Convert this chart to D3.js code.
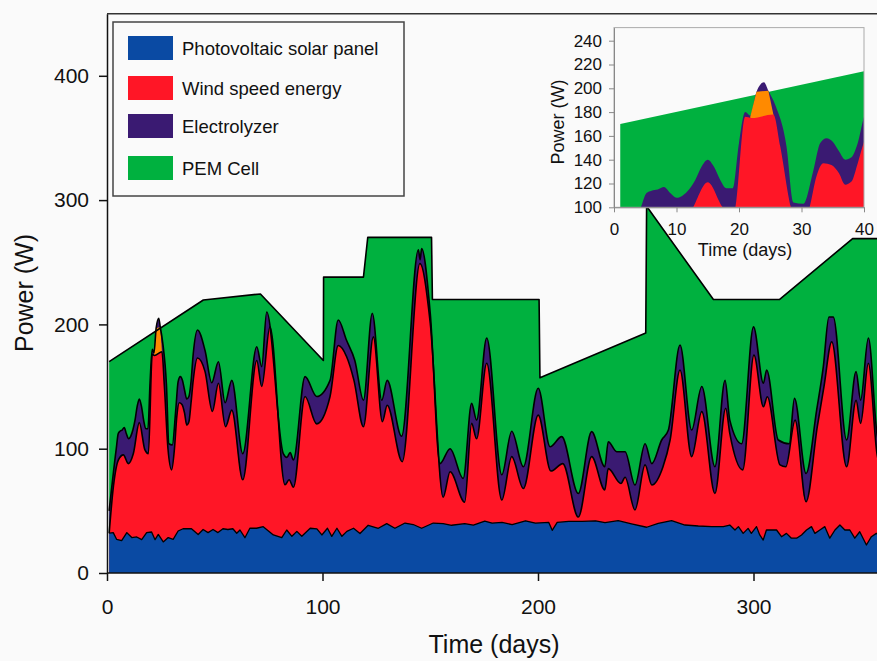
<!DOCTYPE html>
<html>
<head>
<meta charset="utf-8">
<script src="https://cdn.jsdelivr.net/npm/d3@7"></script>
<style>
    body { margin: 0; background: #fafafa; }
    svg { display: block; font-family: Arial, "Liberation Sans", sans-serif; }
</style>
</head>
<body>
<svg id="chart" width="877" height="661"></svg>
<script>
// series names, in legend order
var seriesNames = ['Photovoltaic solar panel', 'Wind speed energy', 'Electrolyzer', 'PEM Cell'];
var seriesColors = ['#0a4aa3', '#ff1626', '#3a1a72', '#00b13f'];
var excessColor = '#ff8a00';

// tick values
var mainXTicks = [0, 100, 200, 300];
var mainYTicks = [0, 100, 200, 300, 400];
var insetXTicks = [0, 10, 20, 30, 40];
var insetYTicks = [100, 120, 140, 160, 180, 200, 220, 240];

// cumulative top of each layer, [day, power W]
var solarTop = [
    [1, 32], [2.9, 32.5], [4.5, 27], [6.8, 26], [9.2, 32.5], [11.5, 28.5], [13.8, 29], [16.1, 26.8],
    [18.4, 32.5], [20.7, 33], [22.3, 26.8], [23.8, 31], [26.1, 25], [28.4, 28.5], [30.7, 27], [33, 33.8],
    [35.3, 35.6], [39.2, 35.6], [42.3, 31], [44.6, 35], [46.9, 32.5], [49.2, 35], [51.5, 32.5], [53.8, 35.6],
    [56.1, 35], [58.4, 35.6], [60.2, 32], [61.7, 34.6], [64, 28.4], [66.3, 36], [69.4, 36], [72.5, 37.3],
    [77.2, 30.6], [81.1, 28.4], [83.4, 34.6], [85.8, 29.5], [88.1, 33.5], [90.4, 29.5], [94.3, 36], [97.4, 35.5],
    [99.7, 30.6], [102.3, 36], [104.3, 29.5], [106.7, 36], [109, 29.5], [111.3, 33.5], [114.4, 36], [117.4, 31.8],
    [121.2, 38.4], [125.9, 36], [129.8, 39.7], [133.6, 36], [138.3, 40.2], [142.1, 39], [146, 36], [151.4, 40.2],
    [156, 39.7], [159.9, 38.4], [166, 39.7], [170, 38.5], [175.3, 41.8], [178.7, 40.2], [183.3, 40.7], [188, 38.9],
    [194.2, 42], [198.8, 40.2], [205, 40.7], [206.6, 34.3], [208.9, 40.7], [214.3, 41.5], [220.5, 41.5], [226.7, 42],
    [231.1, 40.5], [237.2, 42.1], [243.4, 39.5], [250.4, 36.8], [255.8, 40], [262, 42.1], [268.2, 38.6], [274.4, 37.8],
    [280.6, 37.3], [286, 37.3], [289, 38.6], [291.4, 34.6], [293, 37.3], [295.2, 31.9], [297.5, 35.9], [299, 31.9],
    [301.4, 37.3], [302.9, 30.6], [304.5, 26.5], [306, 34.6], [308.4, 34.6], [310.7, 34.6], [313, 29.2], [315.3, 31.9],
    [317.6, 28], [320, 28], [322.3, 30.6], [324.6, 34.6], [326.9, 37.3], [328.5, 31.9], [330.8, 34.6], [333.1, 37.3],
    [335.4, 28], [337.8, 34.6], [340.1, 38.6], [342.4, 34.6], [344.7, 34.6], [347, 28], [349.3, 33.2], [352.4, 22.5],
    [354.7, 29.2], [357, 31.9], [360, 28]
];

var windTop = [
    [1, 32], [3, 70], [5.3, 91], [7.6, 95], [9.9, 88], [12.2, 96], [15, 121], [17.6, 99], [19.2, 96],
    [21, 176], [22, 175], [25.5, 178], [26.6, 151], [28.3, 100], [30, 83], [31.3, 100], [32.4, 126], [33.5, 137],
    [34.8, 135.6], [36, 128.6], [37, 119], [38, 121.6], [39, 137], [40, 155], [42, 173], [45.5, 162], [48.9, 130],
    [51.7, 152.6], [55, 117.7], [57.9, 131], [63, 75], [69.5, 171], [71.8, 150], [75.6, 198], [82.6, 71], [84.5, 75],
    [86.5, 69], [91.9, 142], [97.3, 120], [103.5, 142], [107.3, 183], [111.2, 174], [114.6, 155], [119, 117.7],
    [123.6, 190], [127.8, 121.7], [130, 135], [137, 89.5], [145.2, 249], [150, 201], [156, 61], [159.2, 81.5],
    [166, 57], [169.2, 120.4], [171.5, 108], [176.2, 168.7], [183.2, 58.7], [187.8, 93.6], [193.2, 68], [200.1, 127],
    [206, 82], [211.5, 88], [218.7, 45], [224.9, 93.6], [231, 66.8], [232.6, 84], [238.5, 72], [240.4, 77],
    [245, 50.7], [249.7, 87], [252.8, 70.8], [258, 85.5], [261.3, 107], [265.9, 163.3], [271.3, 93.6], [276, 129.8],
    [282.1, 64], [287.1, 132.5], [289, 112.4], [295, 83], [300.2, 175.4], [304.6, 133.8], [306.4, 141.8], [312.3, 87],
    [315, 85.5], [319.3, 123], [324.4, 57.4], [329.6, 117.7], [332.7, 150], [336.3, 186], [343.2, 85.5], [347.6, 139],
    [349.7, 120.4], [353.3, 168.7], [357.3, 96], [360, 80]
];

var electrolyzerTop = [
    [1, 50], [4.3, 100], [5.2, 112], [6, 114], [7, 115], [8, 117], [9, 112], [10, 108], [11, 110], [12, 115],
    [13, 123], [14, 134], [15, 140], [16, 134], [17, 123], [18, 116], [19, 116], [20, 154], [21, 180], [21.8, 177],
    [22.8, 197], [24, 205], [24.7, 198], [25.8, 186], [27.6, 151], [28.7, 104], [30.3, 103], [31.9, 131], [33, 154],
    [34, 158], [35, 155], [36, 147], [37, 140], [38, 142], [39, 154], [40, 176], [42, 195.5], [45.5, 179],
    [48.6, 153], [51.7, 170], [54.8, 137], [57.9, 155], [63, 96], [69.5, 182], [71.8, 166], [74.1, 210], [81.8, 96],
    [83.5, 93], [85, 97], [86.5, 91], [91.9, 158], [97.3, 142], [103.5, 155], [107.3, 203.5], [111.2, 187],
    [115, 171], [119, 139], [123.1, 209], [127.5, 139], [130, 155], [136.7, 110], [144.5, 260], [145.3, 252],
    [146, 261], [150, 209], [154.5, 88], [159.2, 100], [165.3, 76], [169.2, 136.5], [171.5, 123], [176.2, 189],
    [183.2, 79], [187.8, 114], [193.2, 85.5], [200.1, 148.6], [205.6, 101.6], [211, 109.7], [218.7, 64],
    [224.9, 113.7], [231, 85.5], [232.6, 105.6], [236.5, 97.6], [240.4, 97.6], [245, 70.8], [249.7, 104],
    [252.8, 88], [257.4, 107], [260.5, 115], [265.9, 183.4], [271.3, 115], [276, 150], [282.1, 85.5], [286.8, 155],
    [289, 123], [294.5, 104], [300, 198], [304.6, 152.6], [306.1, 163.3], [311.5, 107], [316.6, 104], [319, 140.5],
    [324.4, 80], [329.3, 131], [332.4, 166], [335, 206], [337, 206], [343.2, 107], [347.6, 162], [349.7, 139],
    [353.3, 189], [357.3, 112], [360, 95]
];

// wind power above the load (orange patch)
var excessTop = [[21.8, 176], [22.8, 197], [24.7, 198], [25.5, 178]];

// PEM cell / load line
var pemTop = [
    [1, 170], [44.7, 219.6], [71.2, 224.5], [100.4, 171], [100.5, 238], [119, 238], [121, 270], [150.6, 270],
    [151, 220], [200.5, 220], [200.9, 157], [250, 193], [250.4, 295], [281.4, 220], [312, 220], [346, 269], [365, 269]
];

var svg = d3.select('#chart');

// ---------- main chart ----------
var x = d3.scaleLinear().domain([0, 365]).range([107, 107 + 365 * 2.155]);
var y = d3.scaleLinear().domain([0, 450]).range([573, 573 - 450 * 1.243]);

svg.append('clipPath').attr('id', 'mainClip')
    .append('rect')
    .attr('x', x(0)).attr('y', y(450))
    .attr('width', 877 - x(0)).attr('height', y(0) - y(450));

function areaOf(sx, sy, base, curve) {
    return d3.area()
        .x(function(d) { return sx(d[0]); })
        .y0(sy(base))
        .y1(function(d) { return sy(d[1]); })
        .curve(curve);
}
function lineOf(sx, sy, curve) {
    return d3.line()
        .x(function(d) { return sx(d[0]); })
        .y(function(d) { return sy(d[1]); })
        .curve(curve);
}

var smooth = d3.curveMonotoneX;
var layers = [
    {data: pemTop, color: seriesColors[3], curve: d3.curveLinear},
    {data: electrolyzerTop, color: seriesColors[2], curve: smooth},
    {data: excessTop, color: excessColor, curve: d3.curveLinear},
    {data: windTop, color: seriesColors[1], curve: smooth},
    {data: solarTop, color: seriesColors[0], curve: d3.curveLinear}
];

var plot = svg.append('g').attr('clip-path', 'url(#mainClip)');
layers.forEach(function(l) {
    plot.append('path')
        .attr('fill', l.color)
        .attr('d', areaOf(x, y, 0, l.curve)(l.data));
});
// black outlines of the layer tops
[pemTop, electrolyzerTop, windTop, solarTop].forEach(function(data, i) {
    plot.append('path')
        .attr('fill', 'none')
        .attr('stroke', '#000')
        .attr('stroke-width', i === 3 ? 1.3 : 1.6)
        .attr('stroke-linejoin', 'round')
        .attr('d', lineOf(x, y, i === 0 || i === 3 ? d3.curveLinear : smooth)(data));
});

// top frame line
svg.append('line')
    .attr('x1', x(0)).attr('x2', 877)
    .attr('y1', y(450)).attr('y2', y(450))
    .attr('stroke', '#333').attr('stroke-width', 1.5);

var xAxis = svg.append('g')
    .attr('transform', 'translate(0,' + y(0) + ')')
    .call(d3.axisBottom(x).tickValues(mainXTicks).tickSize(8).tickPadding(18).tickSizeOuter(0));
var yAxis = svg.append('g')
    .attr('transform', 'translate(' + x(0) + ',0)')
    .call(d3.axisLeft(y).tickValues(mainYTicks).tickSize(8).tickPadding(10).tickSizeOuter(0));
[xAxis, yAxis].forEach(function(a) {
    a.selectAll('path, line').attr('stroke', '#111').attr('stroke-width', 1.5);
    a.selectAll('text').attr('font-size', 21).attr('fill', '#111')
        .attr('font-family', 'Arial, "Liberation Sans", sans-serif');
});
xAxis.select('.domain').attr('d', 'M' + x(0) + ',0H877');

svg.append('text')
    .attr('x', 494).attr('y', 653)
    .attr('text-anchor', 'middle')
    .attr('font-size', 25).attr('fill', '#111')
    .text('Time (days)');
svg.append('text')
    .attr('transform', 'translate(33,293) rotate(-90)')
    .attr('text-anchor', 'middle')
    .attr('font-size', 25).attr('fill', '#111')
    .text('Power (W)');

// ---------- legend ----------
var legend = svg.append('g');
legend.append('rect')
    .attr('x', 113).attr('y', 22).attr('width', 291).attr('height', 174)
    .attr('fill', '#fafafa').attr('stroke', '#444').attr('stroke-width', 1.5);
var legendRows = [36, 76, 114, 156];
seriesNames.forEach(function(name, i) {
    legend.append('rect')
        .attr('x', 128).attr('y', legendRows[i])
        .attr('width', 45).attr('height', 24)
        .attr('fill', seriesColors[i]);
    legend.append('text')
        .attr('x', 182).attr('y', legendRows[i] + 19)
        .attr('font-size', 18.5).attr('fill', '#111')
        .text(name);
});

// ---------- inset ----------
var ix = d3.scaleLinear().domain([0, 40]).range([614, 864]);
var iy = d3.scaleLinear().domain([100, 251]).range([207.3, 207.3 - 151 * 1.19]);

svg.append('clipPath').attr('id', 'insetClip')
    .append('rect')
    .attr('x', ix(0)).attr('y', iy(251))
    .attr('width', ix(40) - ix(0)).attr('height', iy(100) - iy(251));

svg.append('rect')
    .attr('x', ix(0)).attr('y', iy(251))
    .attr('width', ix(40) - ix(0)).attr('height', iy(100) - iy(251))
    .attr('fill', '#fafafa');

var inset = svg.append('g').attr('clip-path', 'url(#insetClip)');
var insetPem = pemTop.filter(function(d) { return d[0] <= 45; });
inset.append('path').attr('fill', seriesColors[3])
    .attr('d', areaOf(ix, iy, 100, d3.curveLinear)(insetPem));
inset.append('path').attr('fill', seriesColors[2])
    .attr('d', areaOf(ix, iy, 100, smooth)(electrolyzerTop));
inset.append('path').attr('fill', excessColor)
    .attr('d', areaOf(ix, iy, 100, d3.curveLinear)(excessTop));
inset.append('path').attr('fill', seriesColors[1])
    .attr('d', areaOf(ix, iy, 100, smooth)(windTop));
// cover the part right of day 40
inset.append('rect')
    .attr('x', ix(40)).attr('y', iy(251)).attr('width', 20).attr('height', iy(100) - iy(251))
    .attr('fill', '#fafafa');

svg.append('rect')
    .attr('x', ix(0)).attr('y', iy(251))
    .attr('width', ix(40) - ix(0)).attr('height', iy(100) - iy(251))
    .attr('fill', 'none').attr('stroke', '#aaa').attr('stroke-width', 1);

var ixAxis = svg.append('g')
    .attr('transform', 'translate(0,' + iy(100) + ')')
    .call(d3.axisBottom(ix).tickValues(insetXTicks).tickSize(5).tickPadding(11).tickSizeOuter(0));
var iyAxis = svg.append('g')
    .attr('transform', 'translate(' + ix(0) + ',0)')
    .call(d3.axisLeft(iy).tickValues(insetYTicks).tickSize(5).tickPadding(7).tickSizeOuter(0));
[ixAxis, iyAxis].forEach(function(a) {
    a.selectAll('path, line').attr('stroke', '#888').attr('stroke-width', 1);
    a.selectAll('text').attr('font-size', 17).attr('fill', '#111')
        .attr('font-family', 'Arial, "Liberation Sans", sans-serif');
});

svg.append('text')
    .attr('x', 745).attr('y', 256)
    .attr('text-anchor', 'middle')
    .attr('font-size', 18).attr('fill', '#111')
    .text('Time (days)');
svg.append('text')
    .attr('transform', 'translate(564,122) rotate(-90)')
    .attr('text-anchor', 'middle')
    .attr('font-size', 18).attr('fill', '#111')
    .text('Power (W)');
</script>
</body>
</html>
